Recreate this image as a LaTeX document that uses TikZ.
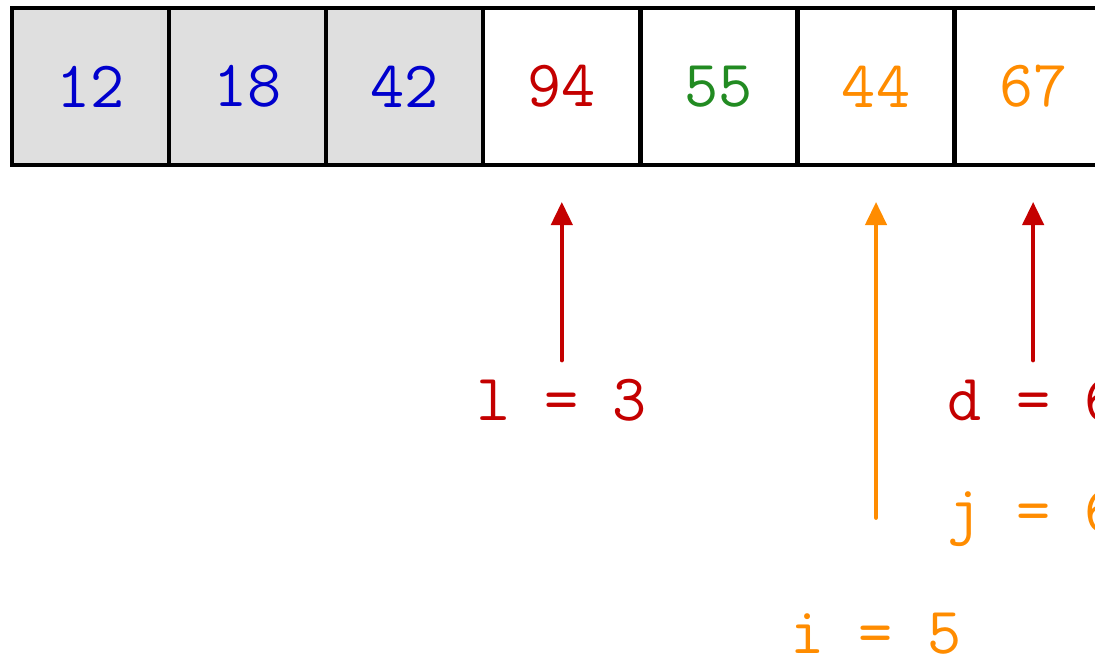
\documentclass[tikz,border=0pt]{standalone}
\usepackage{tikz}
\usepackage{xcolor}
\usetikzlibrary{arrows.meta,positioning}
\definecolor{keyblue}{RGB}{0,0,205}
\definecolor{keyred}{RGB}{196,0,0}
\definecolor{keygreen}{RGB}{34,139,34}
\definecolor{keyorange}{RGB}{255,140,0}
\tikzset{
  cell/.style={rectangle, draw=black, thick, minimum width=1cm,
               minimum height=1cm, inner sep=0pt, font=\large\ttfamily},
  sortedcell/.style={cell, fill=gray!25},
  pointer/.style={-{Triangle[length=4.2pt,width=3.8pt]}, thick, line cap=round},
  ptrlabel/.style={font=\large\ttfamily}
}

\begin{document}
\begin{tikzpicture}
\useasboundingbox (-0.076,0.051) rectangle (6.894,-4.137);
\clip (-0.076,0.051) rectangle (6.894,-4.137);
% array cells
\foreach \i/\v/\col/\sty in {
  0/12/keyblue/sortedcell, 1/18/keyblue/sortedcell, 2/42/keyblue/sortedcell,
  3/94/keyred/cell, 4/55/keygreen/cell, 5/44/keyorange/cell, 6/67/keyorange/cell}
  \node[\sty, text=\col] (c\i) at (\i+0.5,-0.5) {\v};
% index labels
\node[ptrlabel, text=keyred]    (lptr) at (3.5,-2.5)  {l = 3};
\node[ptrlabel, text=keyred]    (dptr) at (6.5,-2.5)  {d = 6};
\node[ptrlabel, text=keyorange] (jptr) at (6.5,-3.25) {j = 6};
\node[ptrlabel, text=keyorange] (iptr) at (5.5,-3.98) {i = 5};
% pointers
\draw[pointer, keyred, shorten >=0.22cm] (lptr) -- (c3);
\draw[pointer, keyred, shorten >=0.22cm] (dptr) -- (c6);
\draw[pointer, keyorange, shorten >=0.22cm, shorten <=0.48cm] (iptr) -- (c5);
\end{tikzpicture}
\end{document}
